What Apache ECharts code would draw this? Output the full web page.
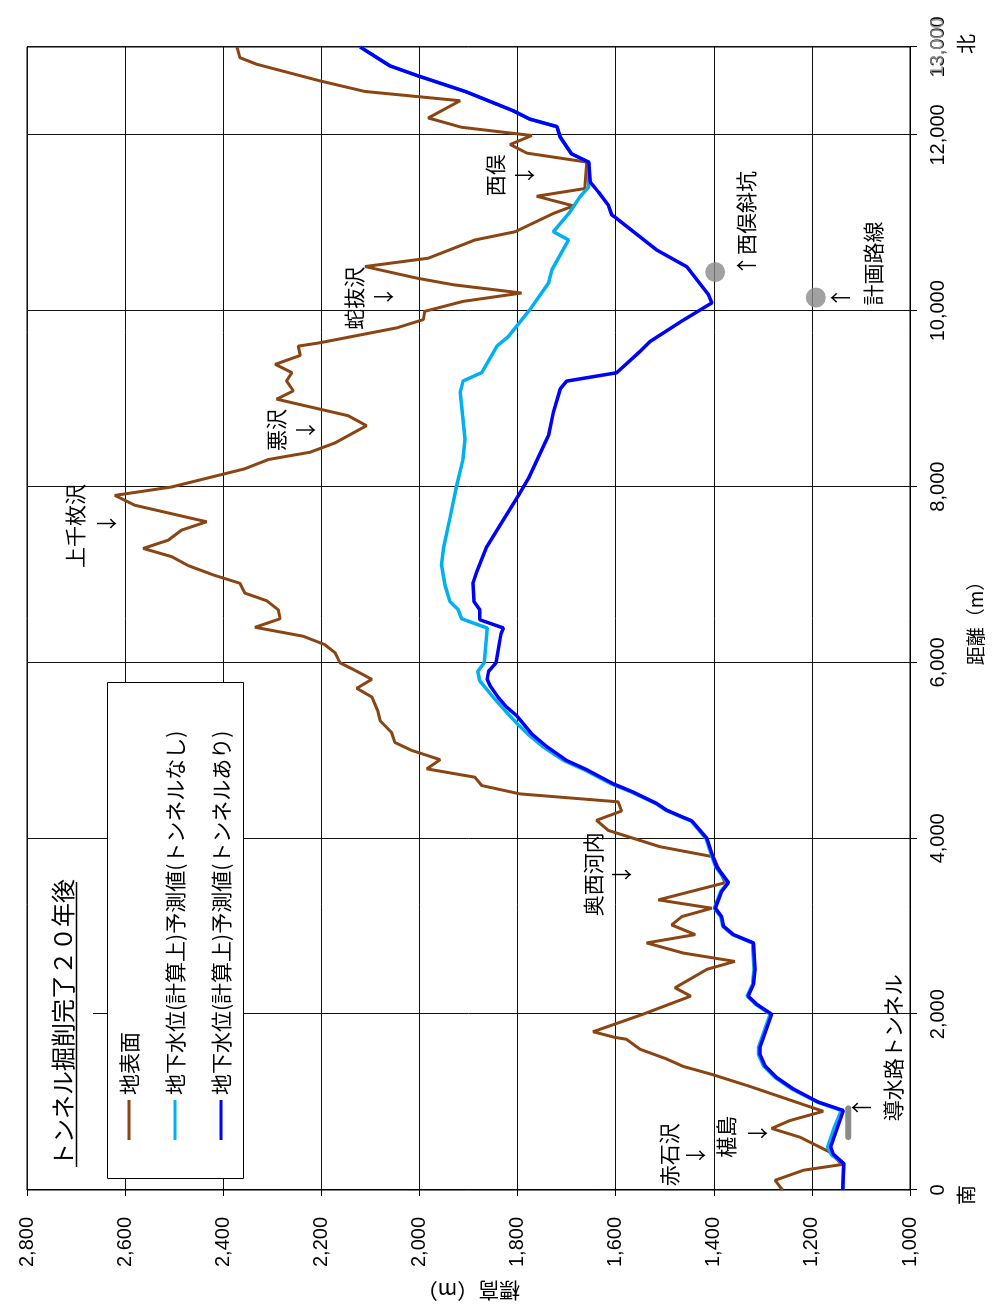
<!DOCTYPE html>
<html><head><meta charset="utf-8">
<script src="https://cdn.jsdelivr.net/npm/echarts@6/dist/echarts.min.js"></script>
<style>
html,body{margin:0;padding:0;width:992px;height:1309px;overflow:hidden;background:#fff}
#wrap{position:absolute;left:0;top:0;width:1309px;height:992px;transform-origin:0 0;transform:translateY(1309px) rotate(-90deg);}
#chart{width:1309px;height:992px}
</style></head>
<body><div id="wrap"><div id="chart"></div></div>
<script>
// ---- data: [distance (m), elevation (m)] ----
const surfacePoints = [[0,1260],[110,1275],[225,1217],[290,1139],[430,1163],[600,1224],[700,1282],[790,1245],[895,1177],[1190,1333],[1310,1401],[1405,1462],[1490,1496],[1600,1550],[1715,1578],[1735,1601],[1800,1646],[2000,1544],[2205,1447],[2300,1479],[2510,1414],[2600,1357],[2695,1462],[2810,1537],[2905,1438],[3015,1486],[3110,1465],[3205,1404],[3300,1513],[3495,1377],[3790,1401],[3905,1510],[4090,1615],[4205,1639],[4310,1588],[4415,1595],[4505,1795],[4600,1873],[4695,1887],[4790,1985],[4895,1958],[5000,2016],[5090,2050],[5205,2057],[5335,2080],[5450,2085],[5608,2097],[5706,2128],[5808,2097],[5921,2135],[5996,2162],[6110,2172],[6203,2193],[6298,2237],[6400,2335],[6497,2284],[6600,2288],[6701,2311],[6789,2356],[6901,2366],[6995,2420],[7101,2471],[7203,2505],[7297,2563],[7391,2512],[7505,2485],[7600,2434],[7788,2580],[7900,2621],[7996,2505],[8203,2356],[8308,2308],[8391,2223],[8497,2172],[8693,2108],[8806,2145],[8995,2291],[9089,2257],[9202,2271],[9297,2260],[9391,2294],[9492,2243],[9598,2247],[9636,2203],[9806,2046],[9900,1992],[9994,1989],[10107,1911],[10202,1792],[10296,1931],[10372,2006],[10503,2111],[10598,1982],[10805,1887],[10899,1805],[11107,1727],[11193,1686],[11303,1761],[11390,1663],[11691,1659],[11793,1781],[11891,1815],[11993,1771],[12087,1914],[12193,1982],[12389,1917],[12494,2111],[12615,2203],[12804,2332],[12879,2366],[13000,2372]];

const gwNoTunnel = [[0,1137],[300,1135],[400,1160],[490,1168],[700,1155],[905,1140],[1000,1189],[1150,1241],[1280,1275],[1415,1299],[1545,1309],[1620,1309],[2000,1285],[2110,1314],[2205,1332],[2340,1321],[2510,1318],[2810,1321],[2905,1362],[3000,1382],[3110,1386],[3205,1399],[3395,1386],[3495,1372],[3675,1396],[3825,1406],[4000,1416],[4200,1447],[4245,1467],[4320,1498],[4395,1518],[4525,1567],[4620,1609],[4780,1664],[4885,1706],[5045,1749],[5185,1779],[5300,1800],[5450,1825],[5600,1849],[5790,1877],[5900,1881],[5995,1868],[6392,1862],[6497,1914],[6600,1921],[6694,1938],[6880,1948],[7110,1955],[7300,1951],[7640,1938],[8015,1924],[8316,1911],[8542,1907],[9070,1917],[9202,1911],[9297,1873],[9598,1842],[9704,1819],[10013,1775],[10315,1737],[10465,1730],[10805,1696],[10899,1727],[11125,1693],[11295,1673],[11408,1655],[11690,1655],[11785,1690],[11975,1713],[12095,1720],[12180,1775],[12275,1809],[12495,1907],[12670,2002],[12785,2060],[13000,2121]];

const gwTunnel = [[0,1137],[300,1135],[405,1156],[490,1162],[905,1136],[1000,1187],[1150,1238],[1280,1272],[1415,1296],[1545,1306],[1620,1306],[2000,1282],[2110,1312],[2205,1330],[2340,1319],[2510,1316],[2810,1319],[2905,1360],[3000,1380],[3110,1384],[3205,1397],[3395,1384],[3495,1370],[3675,1394],[3825,1404],[4000,1414],[4200,1445],[4245,1465],[4320,1496],[4395,1516],[4525,1564],[4620,1605],[4780,1659],[4885,1700],[5045,1741],[5185,1771],[5395,1802],[5490,1822],[5600,1839],[5735,1856],[5810,1862],[5900,1859],[5995,1844],[6320,1834],[6392,1829],[6486,1877],[6600,1877],[6694,1889],[6900,1891],[7035,1883],[7315,1863],[7560,1836],[7900,1798],[8090,1778],[8580,1737],[8845,1727],[9110,1713],[9200,1700],[9295,1598],[9540,1550],[9650,1530],[9880,1466],[10090,1404],[10185,1411],[10500,1455],[10690,1516],[11050,1598],[11090,1608],[11200,1615],[11350,1635],[11465,1652],[11690,1655],[11785,1690],[11975,1713],[12095,1720],[12180,1775],[12275,1809],[12495,1907],[12670,2002],[12785,2060],[13000,2121]];

const tunnelBar = [[603,1126],[928,1126]];
const shaftPoints = [[10440,1397],[10150,1192]];

// annotation text: [text, distance, elevation]
const annotations = [
  ['赤石沢',402,1491],['↓',396,1438],
  ['椹島',605,1375],['↓',645,1312],
  ['↑',939,1100],['導水路トンネル',1618,1035],
  ['奥西河内',3592,1646],['↓',3587,1589],
  ['上千枚沢',7552,2702],['↓',7580,2639],
  ['悪沢',8644,2292],['↓',8644,2233],
  ['蛇抜沢',10143,2133],['↓',10160,2074],
  ['西俣',11540,1846],['↓',11540,1787],
  ['↑西俣斜坑',10992,1334],
  ['↑',10149,1143],['計画路線',10539,1075]
];

const seriesNames = ['地表面','地下水位(計算上)予測値(トンネルなし)','地下水位(計算上)予測値(トンネルあり)'];
const titleText = 'トンネル掘削完了２０年後';

const JP = '"Noto Sans CJK JP", sans-serif';
const NUM = '"Liberation Sans", Arial, sans-serif';
const fmt = v => v.toLocaleString('en-US');

const chart = echarts.init(document.getElementById('chart'), null, {renderer:'canvas'});
chart.setOption({
  animation:false,
  backgroundColor:'#fff',
  title:{text:titleText,left:142,top:51,padding:0,z:20,
    textStyle:{fontSize:24,fontWeight:'normal',color:'#000',fontFamily:JP}},
  legend:{data:seriesNames,orient:'vertical',left:169,top:118,padding:0,itemGap:24,
    itemWidth:40,itemHeight:3,icon:'rect',z:20,
    textStyle:{fontSize:21,color:'#000',fontFamily:JP,lineHeight:22}},
  grid:{left:114,right:47,top:27,bottom:82,show:true,borderColor:'#000',borderWidth:1},
  xAxis:{type:'value',min:0,max:13000,interval:2000,
    axisLine:{show:true,lineStyle:{color:'#000',width:1}},
    axisTick:{show:true,length:7,lineStyle:{color:'#000'}},
    axisLabel:{formatter:fmt,fontSize:20,color:'#000',fontFamily:NUM,margin:18},
    splitLine:{show:true,lineStyle:{color:'#111',width:1}},
    name:'距離（m）',nameLocation:'middle',nameGap:56,
    nameTextStyle:{fontSize:19,color:'#000',fontFamily:JP}},
  yAxis:{type:'value',min:1000,max:2800,interval:200,
    axisLine:{show:true,lineStyle:{color:'#000',width:1}},
    axisTick:{show:true,length:6,lineStyle:{color:'#000'}},
    axisLabel:{formatter:fmt,fontSize:20,color:'#000',fontFamily:NUM,margin:27},
    splitLine:{show:true,lineStyle:{color:'#111',width:1}},
    name:'標高（m）',nameLocation:'middle',nameGap:90,
    nameTextStyle:{fontSize:21,color:'#000',fontFamily:JP}},
  series:[
    {name:seriesNames[0],type:'line',data:surfacePoints,symbol:'none',z:3,
      color:'#8B4513',lineStyle:{color:'#8B4513',width:3},itemStyle:{color:'#8B4513'}},
    {name:seriesNames[1],type:'line',data:gwNoTunnel,symbol:'none',z:4,
      color:'#00B0F0',lineStyle:{color:'#00B0F0',width:3.5},itemStyle:{color:'#00B0F0'}},
    {name:seriesNames[2],type:'line',data:gwTunnel,symbol:'none',z:5,
      color:'#0000FF',lineStyle:{color:'#0000FF',width:3.5},itemStyle:{color:'#0000FF'}},
    {name:'導水路トンネル',type:'line',data:tunnelBar,symbol:'none',z:6,
      lineStyle:{color:'#8a8a8a',width:6,cap:'round'}},
    {name:'斜坑',type:'scatter',data:shaftPoints,symbol:'circle',symbolSize:20,z:6,
      itemStyle:{color:'#8a8a8a'}}
  ]
});

const px = (d,e) => chart.convertToPixel({gridIndex:0},[d,e]);
const g = [];
// white background under title, framed box under legend
g.push({type:'rect',shape:{x:135,y:28,width:300,height:65},style:{fill:'#fff'},z:10});
g.push({type:'rect',shape:{x:130.5,y:107.5,width:496,height:136},style:{fill:'#fff',stroke:'#000',lineWidth:1},z:10});
g.push({type:'line',shape:{x1:142,y1:76.5,x2:427,y2:76.5},style:{stroke:'#000',lineWidth:1.5},z:21});
annotations.forEach(a=>{
  const p = px(a[1],a[2]);
  g.push({type:'text',x:p[0],y:p[1],z:30,style:{text:a[0],fill:'#000',fontSize:21,fontFamily:JP,align:'center',verticalAlign:'middle'}});
});
const o = px(0,1000), n = px(13000,1000);
g.push({type:'text',x:n[0],y:n[1]+28,z:30,style:{text:fmt(13000),fill:'#8c8c8c',fontSize:19,fontFamily:NUM,align:'center',verticalAlign:'middle'}});
g.push({type:'text',x:o[0]-5,y:o[1]+56,z:30,style:{text:'南',fill:'#000',fontSize:20,fontFamily:JP,align:'center',verticalAlign:'middle'}});
g.push({type:'text',x:n[0]+3,y:n[1]+56,z:30,style:{text:'北',fill:'#000',fontSize:20,fontFamily:JP,align:'center',verticalAlign:'middle'}});
chart.setOption({graphic:g});
</script></body></html>
